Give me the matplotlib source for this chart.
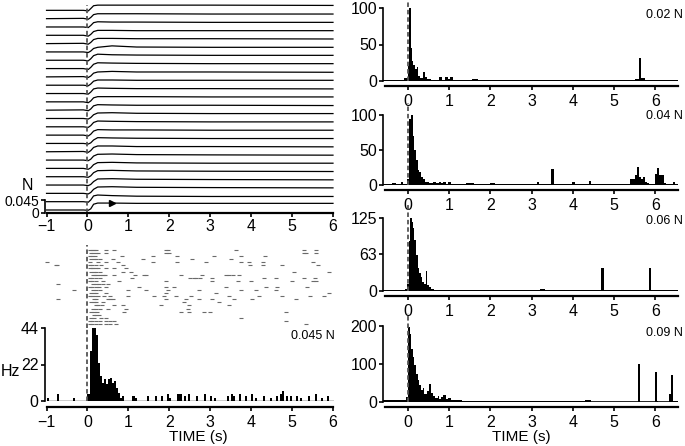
import numpy as np
import matplotlib
matplotlib.use('Agg')
import matplotlib.pyplot as plt

plt.rcParams['font.family'] = ['Liberation Sans', 'DejaVu Sans']

# ---- top left: force traces (N above each trace's baseline), top trial first
trace_t = [-1.0, -0.1, 0.02, 0.08, 0.15, 0.25, 0.6, 1.2, 3.0, 6.0]
traces = [
    [0, 0.000, -0.002, 0.006, 0.016, 0.018, 0.018, 0.018, 0.018, 0.017],
    [0, 0.001, -0.002, 0.004, 0.014, 0.017, 0.017, 0.017, 0.016, 0.016],
    [0, 0.000, -0.002, 0.005, 0.015, 0.018, 0.017, 0.017, 0.016, 0.016],
    [0, 0.000, -0.003, 0.003, 0.013, 0.017, 0.017, 0.016, 0.016, 0.016],
    [0, 0.001, -0.002, 0.004, 0.014, 0.018, 0.018, 0.017, 0.017, 0.016],
    [0, 0.000, -0.002, 0.003, 0.012, 0.016, 0.021, 0.017, 0.016, 0.016],
    [0, 0.000, -0.002, 0.005, 0.016, 0.021, 0.019, 0.018, 0.017, 0.017],
    [0, 0.000, -0.003, 0.004, 0.015, 0.020, 0.019, 0.018, 0.017, 0.017],
    [0, 0.001, -0.002, 0.003, 0.013, 0.017, 0.019, 0.017, 0.017, 0.016],
    [0, 0.000, -0.002, 0.004, 0.014, 0.018, 0.018, 0.017, 0.017, 0.017],
    [0, 0.000, -0.002, 0.005, 0.016, 0.019, 0.018, 0.017, 0.017, 0.016],
    [0, 0.000, -0.003, 0.003, 0.014, 0.018, 0.018, 0.018, 0.017, 0.017],
    [0, 0.001, -0.002, 0.004, 0.015, 0.019, 0.018, 0.017, 0.017, 0.016],
    [0, 0.000, -0.002, 0.003, 0.013, 0.019, 0.020, 0.018, 0.017, 0.017],
    [0, 0.000, -0.002, 0.004, 0.015, 0.020, 0.019, 0.018, 0.017, 0.017],
    [0, 0.000, -0.003, 0.003, 0.014, 0.019, 0.018, 0.018, 0.017, 0.017],
    [0, 0.000, -0.002, 0.002, 0.012, 0.020, 0.019, 0.018, 0.017, 0.017],
    [0, 0.001, -0.002, 0.004, 0.015, 0.020, 0.020, 0.018, 0.018, 0.017],
    [0, 0.000, -0.002, 0.003, 0.014, 0.020, 0.021, 0.019, 0.018, 0.017],
    [0, 0.000, -0.003, 0.002, 0.013, 0.020, 0.021, 0.019, 0.018, 0.018],
    [0, 0.000, -0.002, 0.003, 0.014, 0.021, 0.022, 0.020, 0.019, 0.018],
    [0, 0.000, -0.002, 0.002, 0.012, 0.021, 0.022, 0.020, 0.019, 0.018],
    [0, 0.000, -0.002, 0.003, 0.014, 0.022, 0.023, 0.021, 0.020, 0.019],
    [0, 0.000, -0.002, 0.006, 0.020, 0.023, 0.021, 0.019, 0.018, 0.018],
    [0, 0.000, -0.001, 0.004, 0.020, 0.024, 0.024, 0.023, 0.023, 0.023],
]
force_ticks = [0, 0.045]
force_labels = ['0', '0.045']
time_ticks = [-1, 0, 1, 2, 3, 4, 5, 6]

# ---- bottom left: spike raster (s), top trial first
raster = [
    [0.05, 0.1, 0.17, 0.22, 0.45, 0.66, 1.92, 1.96, 3.64, 5.29, 5.58],
    [0.09, 0.14, 0.2, 0.26, 0.45, 1.92, 1.99, 5.3, 5.35, 5.58],
    [0.06, 0.12, 0.18, 0.85, 1.6, 2.2, 3.1, 3.75, 4.35],
    [0.08, 0.15, 0.22, 0.3, 0.62, 1.35, 2.55, 3.5],
    [-1.0, 0.07, 0.25, 0.45, 0.74, 1.6, 2.2, 2.9, 3.75, 3.95, 4.28, 5.5],
    [-0.78, -0.74, 0.05, 0.1, 0.2, 0.33, 0.86, 3.97, 4.28, 4.75, 5.64],
    [0.06, 0.1, 0.14, 0.2, 0.26, 0.45, 0.66, 0.94],
    [0.09, 0.15, 0.22, 0.3, 0.86, 1.07, 5.05, 5.9],
    [0.13, 0.18, 0.24, 0.3, 0.38, 0.44, 0.66, 1.15, 1.37, 1.42, 2.28, 2.8, 3.38, 3.47, 3.55, 3.7],
    [0.05, 0.12, 0.2, 0.3, 1.1, 2.5, 2.6, 2.65, 2.75, 3.05, 4.32, 4.6, 5.29, 5.55],
    [0.06, 0.12, 0.22, 0.37, 0.78, 1.92, 3.05, 3.67, 4.0, 5.0, 5.52, 5.58],
    [-0.72, 0.13, 0.2, 0.28, 0.38, 0.5],
    [0.05, 0.1, 0.2, 0.28, 0.45, 1.27, 1.92, 2.12, 3.38, 4.36, 4.64, 5.37],
    [-0.32, 0.13, 0.2, 0.3, 1.0, 1.43, 1.96, 2.73, 3.75, 4.11, 4.6],
    [0.09, 0.15, 0.22, 0.45, 1.92, 3.14, 5.9],
    [0.05, 0.12, 0.18, 0.25, 0.4, 0.55, 1.0, 1.63, 1.88, 2.16, 2.53, 3.46, 4.2, 4.76, 5.45, 5.78],
    [-0.72, 0.17, 0.22, 0.5, 0.55, 0.62, 1.92, 2.4, 2.73, 3.05, 3.58, 4.03, 5.09],
    [0.09, 0.16, 0.22, 0.37, 2.37, 3.22],
    [0.21, 0.26, 0.35, 0.66, 0.86, 1.8, 2.48, 3.46],
    [0.13, 0.2, 0.3, 0.5, 0.94, 2.45],
    [0.09, 0.16, 0.24, 0.9, 2.28, 2.48, 2.85, 3.0, 4.85],
    [0.17, 0.22, 0.29],
    [0.09, 0.15, 0.34, 0.45, 3.75],
    [0.05, 0.1, 0.2, 0.3, 0.45, 0.55, 0.65, 4.85],
    [0.05, 0.12, 0.2, 0.3, 0.45, 0.55, 0.7, 5.33],
]

# ---- bottom left: PSTH for 0.045 N, bin start (s) and rate (Hz), 0.05 s bins
hz_bins = [-1.0, -0.75, -0.35, 0.0, 0.05, 0.10, 0.15, 0.20, 0.25, 0.30, 0.35, 0.40,
           0.45, 0.50, 0.55, 0.60, 0.65, 0.70, 0.75, 0.80, 0.85, 1.10, 1.15, 1.45,
           1.65, 1.80, 1.95, 2.00, 2.20, 2.25, 2.35, 2.45, 2.65, 2.85, 3.00, 3.10,
           3.40, 3.50, 3.55, 3.70, 3.85, 4.00, 4.10, 4.30, 4.45, 4.60, 4.70, 4.75,
           4.85, 4.95, 5.10, 5.20, 5.40, 5.55, 5.70, 5.85]
hz_vals = [2, 4, 2, 4, 30, 44, 44, 40, 23, 15, 11, 13,
           10, 13, 14, 11, 12, 8, 5, 2, 3, 3, 2, 3,
           3, 3, 4, 2, 4, 4, 3, 4, 3, 4, 3, 2,
           3, 4, 3, 4, 3, 4, 2, 3, 2, 3, 4, 6,
           3, 3, 3, 2, 3, 4, 2, 3]
hz_ticks = [0, 22, 44]

# ---- right column: PSTHs (bin edges in s, rate in Hz)
p1_edges = [-0.6, -0.1, 0.0, 0.03, 0.07, 0.10, 0.13, 0.17, 0.21, 0.25, 0.30, 0.36, 0.42,
            0.47, 0.55, 0.75, 0.82, 0.90, 0.97, 1.02, 1.09, 1.55, 1.70, 3.70, 4.10, 5.50,
            5.61, 5.66, 5.75, 6.30, 6.55]
p1_vals = [2, 4, 20, 100, 45, 27, 22, 16, 19, 7, 4, 12, 6, 3, 2, 5, 2, 6, 3, 5,
           1.5, 3, 1, 2, 1, 3, 31, 4, 1.5, 2]
p2_edges = [-0.6, -0.38, -0.3, -0.18, -0.12, -0.03, 0.02, 0.06, 0.11, 0.15, 0.19, 0.23,
            0.27, 0.31, 0.36, 0.42, 0.5, 0.6, 0.68, 0.74, 0.8, 0.86, 0.92, 0.98, 1.05,
            1.4, 1.6, 2.0, 2.12, 2.3, 2.7, 3.12, 3.18, 3.47, 3.53, 3.97, 4.04, 4.38, 4.45,
            5.38, 5.5, 5.55, 5.6, 5.65, 5.7, 5.75, 5.8, 5.85, 6.0, 6.05, 6.1, 6.15, 6.2,
            6.25, 6.42, 6.48, 6.55]
p2_vals = [1, 3, 1, 4, 1, 8, 95, 100, 70, 50, 36, 22, 18, 12, 8, 5, 3, 5, 3, 5,
           3, 5, 2, 5, 1, 3, 1, 3, 1, 2, 1, 5, 1, 23, 1, 4, 1, 6, 1, 8,
           14, 26, 12, 8, 12, 5, 3, 2, 16, 24, 14, 15, 3, 1, 4, 1]
p3_edges = [-0.6, -0.08, -0.02, 0.02, 0.05, 0.09, 0.12, 0.15, 0.19, 0.23, 0.27, 0.31,
            0.35, 0.39, 0.43, 0.47, 0.51, 0.56, 0.64, 0.8, 1.0, 1.5, 2.25, 2.55, 3.2,
            3.32, 4.69, 4.75, 5.84, 5.9, 6.55]
p3_vals = [1, 4, 12, 85, 125, 118, 108, 88, 62, 40, 30, 24, 16, 12, 34, 11, 7, 4, 2,
           2.5, 1.5, 1, 2, 1, 3, 1, 40, 1, 40, 1]
p4_edges = [-0.6, -0.05, 0.0, 0.05, 0.08, 0.11, 0.15, 0.19, 0.23, 0.27, 0.31, 0.36,
            0.39, 0.43, 0.47, 0.51, 0.56, 0.6, 0.65, 0.72, 0.76, 0.8, 0.86, 0.91, 0.96,
            1.05, 1.3, 1.6, 2.2, 2.9, 3.15, 4.3, 4.45, 5.58, 5.63, 5.98, 6.03, 6.07,
            6.33, 6.37, 6.42, 6.55]
p4_vals = [6, 12, 198, 180, 140, 118, 97, 75, 58, 45, 32, 38, 22, 20, 30, 48, 25, 15,
           10, 17, 9, 12, 18, 7, 10, 5, 3.5, 2.5, 1.5, 3, 1.5, 5, 1, 100, 1, 78, 2, 1,
           22, 70, 2]
right_ticks = [[0, 50, 100], [0, 50, 100], [0, 63, 125], [0, 100, 200]]
right_names = ['0.02 N', '0.04 N', '0.06 N', '0.09 N']
right_x_ticks = [0, 1, 2, 3, 4, 5, 6]

W, H = 685, 446
fig = plt.figure(figsize=(W / 100, H / 100), dpi=100)


def box(x0, y0, x1, y1):
    # pixel box (from top left) -> figure fraction
    return [x0 / W, 1 - y1 / H, (x1 - x0) / W, (y1 - y0) / H]


def clean(ax, out):
    ax.spines['top'].set_visible(False)
    ax.spines['right'].set_visible(False)
    ax.spines['left'].set_linewidth(1.2)
    ax.spines['bottom'].set_linewidth(1.6)
    ax.spines['bottom'].set_position(('outward', out))
    ax.tick_params(direction='out', length=3, width=1.2, labelsize=11.5, pad=1.5)
    ax.patch.set_alpha(0)


dash = dict(color='#555555', ls=(0, (2.5, 1.6)), lw=1.3)

# traces
ax = fig.add_axes(box(44.9, 3, 333.8, 213))
ax.set_xlim(-1.04, 6.02)
ax.set_ylim(0, 0.727)
n = len(traces)
for k, tr in enumerate(traces):
    base = 0.0104 + (n - 1 - k) * 0.0288
    ax.plot(trace_t, np.add(tr, base), color='black', lw=0.9)
ax.plot(trace_t[6], traces[-1][6] + 0.0104, marker='>', color='black', ms=4.5)
ax.axvline(0, ymin=0, ymax=0.99, **dash)
clean(ax, 0)
ax.spines['left'].set_bounds(0, 0.045)
ax.spines['bottom'].set_bounds(-1, 6)
ax.set_yticks(force_ticks)
ax.set_yticklabels(force_labels)
ax.tick_params(axis='y', labelsize=10, pad=1)
ax.set_xticks(time_ticks)
fig.text(27 / W, 1 - 186 / H, 'N', ha='center', va='center', fontsize=11.5)

# raster
ax = fig.add_axes(box(44.9, 245, 333.8, 328))
ax.set_xlim(-1.04, 6.02)
ax.set_ylim(25.33, -1.62)
for k, row in enumerate(raster):
    ax.plot(row, [k] * len(row), ls='none', marker='_', ms=2.2, mew=0.8, color='#6a6a6a')
ax.axvline(0, **dash)
ax.axis('off')

# 0.045 N histogram
ax = fig.add_axes(box(44.9, 328, 333.8, 401))
ax.set_xlim(-1.04, 6.02)
ax.set_ylim(0, 44)
ax.bar(hz_bins, hz_vals, width=0.05, align='edge', color='black', lw=0)
ax.axhline(0, xmin=0.006, color='black', lw=1.0)
ax.axvline(0, **dash)
clean(ax, 4.3)
ax.spines['left'].set_bounds(0, 44)
ax.spines['bottom'].set_bounds(-1, 6)
ax.set_yticks(hz_ticks)
ax.set_xticks(time_ticks)
ax.tick_params(axis='x', pad=2.5)
fig.text(335 / W, 1 - 336 / H, '0.045 N', ha='right', va='center', fontsize=9)
fig.text(10 / W, 1 - 371 / H, 'Hz', ha='center', va='center', fontsize=11.5)
fig.text(198 / W, 1 - 437 / H, 'TIME (s)', ha='center', va='center', fontsize=11)

# right column
right_rows = [(8, 81, 2), (115, 185, 103), (218, 291, 205), (326, 402, 313)]
right_text_y = [15, 116, 221, 333]
hists = [(p1_edges, p1_vals), (p2_edges, p2_vals), (p3_edges, p3_vals), (p4_edges, p4_vals)]
for (edges, vals), ticks, name, (y0, y1, ydash), ty in zip(
        hists, right_ticks, right_names, right_rows, right_text_y):
    ax = fig.add_axes(box(383.3, y0, 678, y1))
    ax.set_xlim(-0.6, 6.55)
    ax.set_ylim(0, ticks[-1])
    ax.stairs(vals, edges, fill=True, color='black', lw=0)
    ax.axhline(0, color='black', lw=1.2)
    ax.axvline(0, ymin=0, ymax=(y1 - ydash) / (y1 - y0), clip_on=False, **dash)
    clean(ax, 3.6)
    ax.spines['bottom'].set_bounds(-0.56, 6.55)
    ax.set_yticks(ticks)
    ax.set_xticks(right_x_ticks)
    ax.tick_params(axis='x', pad=2.5)
    fig.text(683 / W, 1 - ty / H, name, ha='right', va='center', fontsize=9)

fig.text(521 / W, 1 - 437 / H, 'TIME (s)', ha='center', va='center', fontsize=11)

fig.savefig('out.png', dpi=100)
